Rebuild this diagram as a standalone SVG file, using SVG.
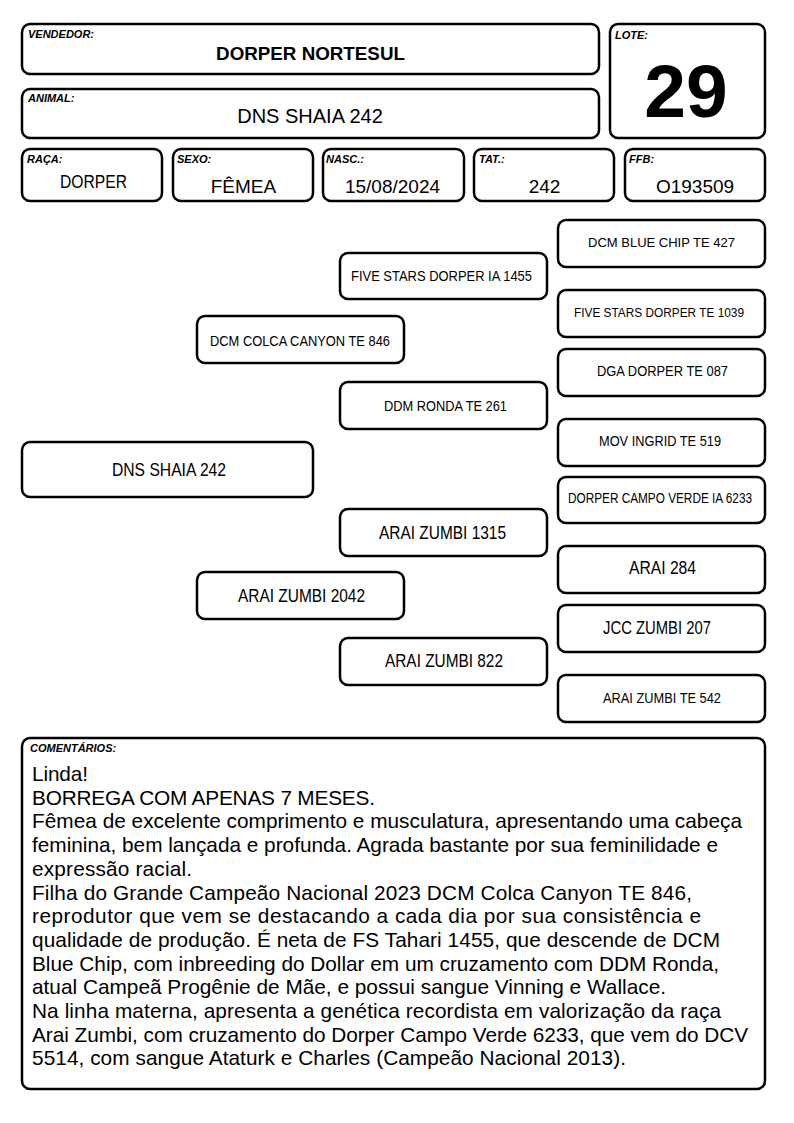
<svg xmlns="http://www.w3.org/2000/svg" width="794" height="1123" viewBox="0 0 794 1123">
<style>
.box{fill:#fff;stroke:#000;stroke-width:2.5}
.lbl{font-family:"Liberation Sans",Arial,sans-serif;font-size:11px;font-weight:bold;font-style:italic;fill:#000}
.val{font-family:"Liberation Sans",Arial,sans-serif;font-size:19px;fill:#000;text-anchor:middle}
.ped{font-family:"Liberation Sans",Arial,sans-serif;fill:#000;text-anchor:middle}
.cmt{font-family:"Liberation Sans",Arial,sans-serif;font-size:20.8px;fill:#000}
</style>
<rect width="794" height="1123" fill="#fff"/>
<g id="vendedor">
<rect class="box" x="22" y="24" width="577" height="50" rx="8"/>
<text class="lbl" x="28" y="38">VENDEDOR:</text>
<text class="val" x="310.5" y="60" style="font-weight:bold;font-size:18.8px">DORPER NORTESUL</text>
</g>
<g id="animal">
<rect class="box" x="22" y="89" width="577" height="49" rx="8"/>
<text class="lbl" x="28" y="102">ANIMAL:</text>
<text class="val" x="310" y="123" style="font-size:20px">DNS SHAIA 242</text>
</g>
<g id="lote">
<rect class="box" x="610" y="24" width="155" height="114" rx="8"/>
<text class="lbl" x="615" y="39">LOTE:</text>
<text class="val" x="686" y="117" style="font-weight:bold;font-size:75px">29</text>
</g>
<g id="raca">
<rect class="box" x="22" y="149" width="140" height="52" rx="8"/>
<text class="lbl" x="27" y="163">RAÇA:</text>
<text class="val" x="93.5" y="188" style="font-size:18px" textLength="67" lengthAdjust="spacingAndGlyphs">DORPER</text>
</g>
<g id="sexo">
<rect class="box" x="173" y="149" width="140" height="52" rx="8"/>
<text class="lbl" x="177" y="163">SEXO:</text>
<text class="val" x="243.5" y="193">FÊMEA</text>
</g>
<g id="nasc">
<rect class="box" x="323" y="149" width="141" height="52" rx="8"/>
<text class="lbl" x="326" y="163">NASC.:</text>
<text class="val" x="392.5" y="193">15/08/2024</text>
</g>
<g id="tat">
<rect class="box" x="474" y="149" width="140" height="52" rx="8"/>
<text class="lbl" x="479" y="163">TAT.:</text>
<text class="val" x="544.5" y="193">242</text>
</g>
<g id="ffb">
<rect class="box" x="625" y="149" width="140" height="52" rx="8"/>
<text class="lbl" x="629" y="163">FFB:</text>
<text class="val" x="695" y="193">O193509</text>
</g>
<g id="p-animal">
<rect class="box" x="22" y="442" width="291" height="55" rx="8"/>
<text class="ped" x="169" y="476" font-size="18" textLength="114" lengthAdjust="spacingAndGlyphs">DNS SHAIA 242</text>
</g>
<g id="p-sire">
<rect class="box" x="197" y="316" width="207" height="47" rx="8"/>
<text class="ped" x="300" y="345.5" font-size="15.5" textLength="180" lengthAdjust="spacingAndGlyphs">DCM COLCA CANYON TE 846</text>
</g>
<g id="p-dam">
<rect class="box" x="197" y="572" width="207" height="47" rx="8"/>
<text class="ped" x="301.5" y="601.5" font-size="18.5" textLength="127" lengthAdjust="spacingAndGlyphs">ARAI ZUMBI 2042</text>
</g>
<g id="p-ss">
<rect class="box" x="340" y="253" width="207" height="46" rx="8"/>
<text class="ped" x="441.5" y="281" font-size="14" textLength="181" lengthAdjust="spacingAndGlyphs">FIVE STARS DORPER IA 1455</text>
</g>
<g id="p-sd">
<rect class="box" x="340" y="382" width="207" height="47" rx="8"/>
<text class="ped" x="445.5" y="410.5" font-size="14.5" textLength="123" lengthAdjust="spacingAndGlyphs">DDM RONDA TE 261</text>
</g>
<g id="p-ds">
<rect class="box" x="340" y="509" width="207" height="47" rx="8"/>
<text class="ped" x="442.5" y="538.5" font-size="18.5" textLength="127" lengthAdjust="spacingAndGlyphs">ARAI ZUMBI 1315</text>
</g>
<g id="p-dd">
<rect class="box" x="340" y="638" width="207" height="47" rx="8"/>
<text class="ped" x="444" y="666.5" font-size="18.5" textLength="118" lengthAdjust="spacingAndGlyphs">ARAI ZUMBI 822</text>
</g>
<g id="p-sss">
<rect class="box" x="558" y="220" width="207" height="47" rx="8"/>
<text class="ped" x="661.5" y="247" font-size="13" textLength="147" lengthAdjust="spacingAndGlyphs">DCM BLUE CHIP TE 427</text>
</g>
<g id="p-ssd">
<rect class="box" x="558" y="290" width="207" height="47" rx="8"/>
<text class="ped" x="659" y="317" font-size="12.5" textLength="170" lengthAdjust="spacingAndGlyphs">FIVE STARS DORPER TE 1039</text>
</g>
<g id="p-sds">
<rect class="box" x="558" y="349" width="207" height="47" rx="8"/>
<text class="ped" x="662.5" y="376" font-size="14" textLength="131" lengthAdjust="spacingAndGlyphs">DGA DORPER TE 087</text>
</g>
<g id="p-sdd">
<rect class="box" x="558" y="419" width="207" height="47" rx="8"/>
<text class="ped" x="660" y="446" font-size="14" textLength="122" lengthAdjust="spacingAndGlyphs">MOV INGRID TE 519</text>
</g>
<g id="p-dss">
<rect class="box" x="558" y="477" width="207" height="46" rx="8"/>
<text class="ped" x="660" y="503" font-size="14" textLength="184" lengthAdjust="spacingAndGlyphs">DORPER CAMPO VERDE IA 6233</text>
</g>
<g id="p-dsd">
<rect class="box" x="558" y="546" width="207" height="47" rx="8"/>
<text class="ped" x="662.5" y="574" font-size="17.5" textLength="67" lengthAdjust="spacingAndGlyphs">ARAI 284</text>
</g>
<g id="p-dds">
<rect class="box" x="558" y="605" width="207" height="47" rx="8"/>
<text class="ped" x="657" y="633.5" font-size="17.5" textLength="108" lengthAdjust="spacingAndGlyphs">JCC ZUMBI 207</text>
</g>
<g id="p-ddd">
<rect class="box" x="558" y="675" width="207" height="47" rx="8"/>
<text class="ped" x="662" y="703" font-size="14" textLength="118" lengthAdjust="spacingAndGlyphs">ARAI ZUMBI TE 542</text>
</g>
<g id="connectors"></g>
<g id="comentarios">
<rect class="box" x="22" y="738" width="743" height="351" rx="8"/>
<text class="lbl" x="30" y="752">COMENTÁRIOS:</text>
<text class="cmt" x="32" y="781" textLength="56">Linda!</text>
<text class="cmt" x="32" y="804.7" textLength="343">BORREGA COM APENAS 7 MESES.</text>
<text class="cmt" x="32" y="828.4" textLength="710">Fêmea de excelente comprimento e musculatura, apresentando uma cabeça</text>
<text class="cmt" x="32" y="852.1" textLength="686">feminina, bem lançada e profunda. Agrada bastante por sua feminilidade e</text>
<text class="cmt" x="32" y="875.8" textLength="160">expressão racial.</text>
<text class="cmt" x="32" y="899.5" textLength="660">Filha do Grande Campeão Nacional 2023 DCM Colca Canyon TE 846,</text>
<text class="cmt" x="32" y="923.2" textLength="669">reprodutor que vem se destacando a cada dia por sua consistência e</text>
<text class="cmt" x="32" y="946.9" textLength="688">qualidade de produção. É neta de FS Tahari 1455, que descende de DCM</text>
<text class="cmt" x="32" y="970.6" textLength="687">Blue Chip, com inbreeding do Dollar em um cruzamento com DDM Ronda,</text>
<text class="cmt" x="32" y="994.3" textLength="634">atual Campeã Progênie de Mãe, e possui sangue Vinning e Wallace.</text>
<text class="cmt" x="32" y="1018" textLength="689">Na linha materna, apresenta a genética recordista em valorização da raça</text>
<text class="cmt" x="32" y="1041.7" textLength="716">Arai Zumbi, com cruzamento do Dorper Campo Verde 6233, que vem do DCV</text>
<text class="cmt" x="32" y="1065.4" textLength="594">5514, com sangue Ataturk e Charles (Campeão Nacional 2013).</text>
</g>
</svg>
